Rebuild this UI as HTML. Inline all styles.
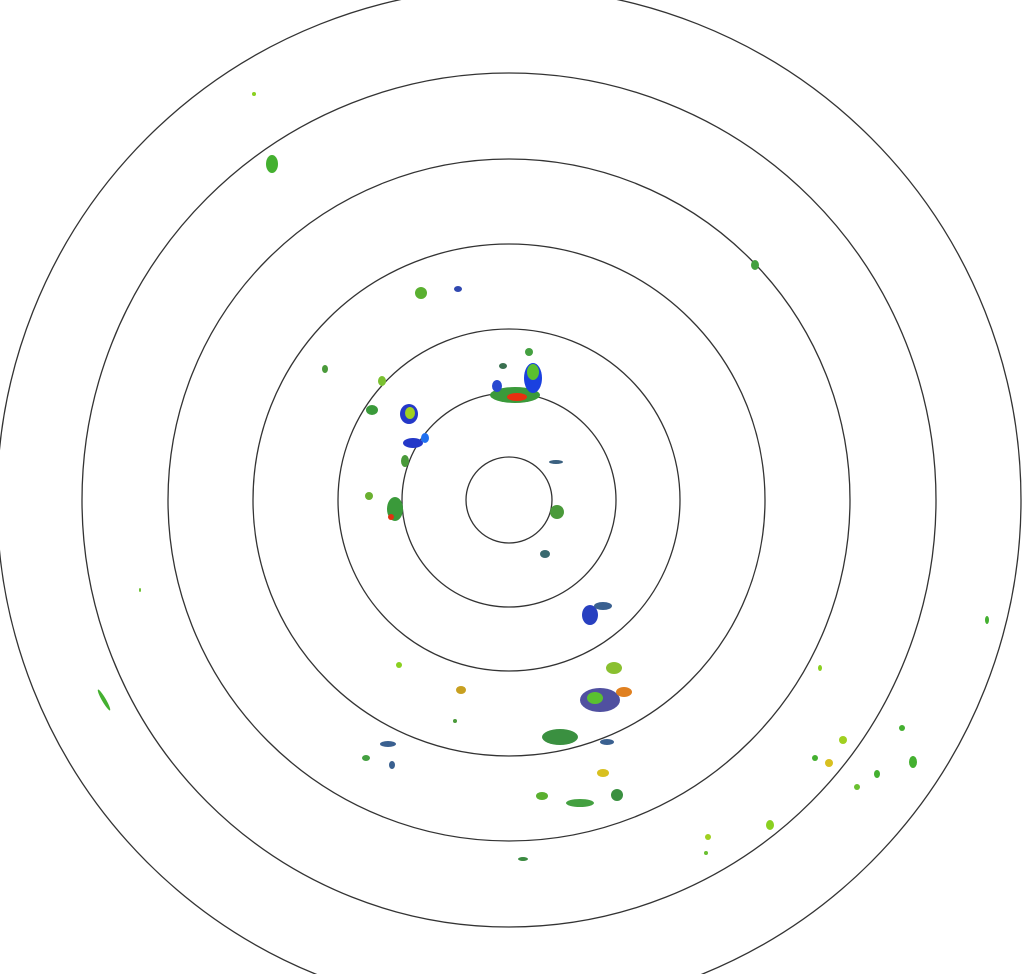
<!DOCTYPE html>
<html><head><meta charset="utf-8"><style>html,body{margin:0;padding:0;background:#fff}svg{display:block}</style></head>
<body>
<svg width="1029" height="974" viewBox="0 0 1029 974" xmlns="http://www.w3.org/2000/svg">
<g fill="none" stroke="#333" stroke-width="1.3">
<circle cx="509" cy="500" r="43"/>
<circle cx="509" cy="500" r="107"/>
<circle cx="509" cy="500" r="171"/>
<circle cx="509" cy="500" r="256"/>
<circle cx="509" cy="500" r="341"/>
<circle cx="509" cy="500" r="427"/>
<circle cx="509" cy="500" r="512"/>
</g>
<g>
<!-- north cluster -->
<ellipse cx="515" cy="395" rx="25" ry="8" fill="#3a9a3a"/>
<ellipse cx="517" cy="397" rx="10" ry="4" fill="#e83010"/>
<ellipse cx="533" cy="378" rx="9" ry="15" fill="#1a40e0"/>
<ellipse cx="533" cy="372" rx="6" ry="8" fill="#5ac030"/>
<ellipse cx="503" cy="366" rx="4" ry="3" fill="#3a7050"/>
<ellipse cx="529" cy="352" rx="4" ry="4" fill="#44a040"/>
<ellipse cx="497" cy="386" rx="5" ry="6" fill="#2848d0"/>
<!-- west -->
<ellipse cx="409" cy="414" rx="9" ry="10" fill="#2438c8"/>
<ellipse cx="410" cy="413" rx="5" ry="6" fill="#a0d020"/>
<ellipse cx="372" cy="410" rx="6" ry="5" fill="#3a9a3a"/>
<ellipse cx="382" cy="381" rx="4" ry="5" fill="#7ac030"/>
<ellipse cx="413" cy="443" rx="10" ry="5" fill="#2438c8"/>
<ellipse cx="425" cy="438" rx="4" ry="5" fill="#2070f0"/>
<ellipse cx="405" cy="461" rx="4" ry="6" fill="#4a9a3a"/>
<ellipse cx="395" cy="509" rx="8" ry="12" fill="#3a9a3a"/>
<ellipse cx="391" cy="517" rx="3" ry="3" fill="#e03010"/>
<ellipse cx="369" cy="496" rx="4" ry="4" fill="#6ab030"/>
<ellipse cx="421" cy="293" rx="6" ry="6" fill="#5ab030"/>
<ellipse cx="458" cy="289" rx="4" ry="3" fill="#3048b0"/>
<ellipse cx="325" cy="369" rx="3" ry="4" fill="#4a9a3a"/>
<ellipse cx="272" cy="164" rx="6" ry="9" fill="#44b030"/>
<ellipse cx="254" cy="94" rx="2" ry="2" fill="#8ad020"/>
<ellipse cx="755" cy="265" rx="4" ry="5" fill="#44a040"/>
<!-- east near -->
<ellipse cx="557" cy="512" rx="7" ry="7" fill="#4a9a3a"/>
<ellipse cx="556" cy="462" rx="7" ry="2" fill="#3a6080"/>
<ellipse cx="545" cy="554" rx="5" ry="4" fill="#3a6a70"/>
<!-- south -->
<ellipse cx="590" cy="615" rx="8" ry="10" fill="#2840c0"/>
<ellipse cx="603" cy="606" rx="9" ry="4" fill="#3a6090"/>
<ellipse cx="600" cy="700" rx="20" ry="12" fill="#5050a0"/>
<ellipse cx="595" cy="698" rx="8" ry="6" fill="#5ac030"/>
<ellipse cx="614" cy="668" rx="8" ry="6" fill="#8ac030"/>
<ellipse cx="624" cy="692" rx="8" ry="5" fill="#e08020"/>
<ellipse cx="560" cy="737" rx="18" ry="8" fill="#3a9040"/>
<ellipse cx="607" cy="742" rx="7" ry="3" fill="#3a6090"/>
<ellipse cx="603" cy="773" rx="6" ry="4" fill="#d8c020"/>
<ellipse cx="580" cy="803" rx="14" ry="4" fill="#44a040"/>
<ellipse cx="542" cy="796" rx="6" ry="4" fill="#5ab030"/>
<ellipse cx="617" cy="795" rx="6" ry="6" fill="#3a9040"/>
<ellipse cx="461" cy="690" rx="5" ry="4" fill="#c8a020"/>
<ellipse cx="399" cy="665" rx="3" ry="3" fill="#8ad020"/>
<ellipse cx="388" cy="744" rx="8" ry="3" fill="#3a6090"/>
<ellipse cx="366" cy="758" rx="4" ry="3" fill="#44a040"/>
<ellipse cx="392" cy="765" rx="3" ry="4" fill="#3a6090"/>
<ellipse cx="523" cy="859" rx="5" ry="2" fill="#3a8a40"/>
<ellipse cx="455" cy="721" rx="2" ry="2" fill="#4a9a3a"/>
<!-- far east/south -->
<ellipse cx="843" cy="740" rx="4" ry="4" fill="#a0d020"/>
<ellipse cx="829" cy="763" rx="4" ry="4" fill="#d8c020"/>
<ellipse cx="815" cy="758" rx="3" ry="3" fill="#44b030"/>
<ellipse cx="877" cy="774" rx="3" ry="4" fill="#44b030"/>
<ellipse cx="913" cy="762" rx="4" ry="6" fill="#44b030"/>
<ellipse cx="902" cy="728" rx="3" ry="3" fill="#44b030"/>
<ellipse cx="857" cy="787" rx="3" ry="3" fill="#6ac030"/>
<ellipse cx="770" cy="825" rx="4" ry="5" fill="#8ad020"/>
<ellipse cx="708" cy="837" rx="3" ry="3" fill="#a0d020"/>
<ellipse cx="706" cy="853" rx="2" ry="2" fill="#6ac030"/>
<ellipse cx="820" cy="668" rx="2" ry="3" fill="#8ad020"/>
<ellipse cx="987" cy="620" rx="2" ry="4" fill="#44b030"/>
<ellipse cx="104" cy="700" rx="2" ry="12" fill="#44b030" transform="rotate(-30 104 700)"/>
<ellipse cx="140" cy="590" rx="1" ry="2" fill="#6ac030"/>
</g>
</svg>
</body></html>
